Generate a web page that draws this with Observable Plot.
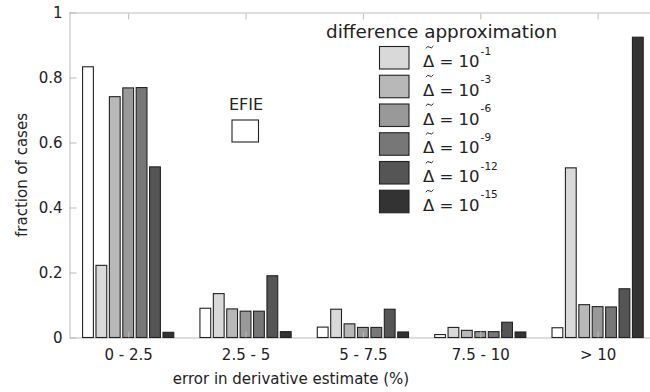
<!DOCTYPE html>
<html>
<head>
<meta charset="utf-8">
<script src="https://cdn.jsdelivr.net/npm/d3@7"></script>
<script src="https://cdn.jsdelivr.net/npm/@observablehq/plot@0.6"></script>
<style>
  html, body { margin: 0; padding: 0; background: #fff; }
  svg { display: block; }
</style>
</head>
<body>
<div id="chart"></div>
<script>
// ---- data ----
const groups = ["0 - 2.5", "2.5 - 5", "5 - 7.5", "7.5 - 10", "> 10"];
const seriesKeys = ["EFIE", "1e-1", "1e-3", "1e-6", "1e-9", "1e-12", "1e-15"];
const legendExponents = ["-1", "-3", "-6", "-9", "-12", "-15"];
const efie  = [0.833, 0.090, 0.032, 0.009, 0.030];
const dm1   = [0.222, 0.135, 0.087, 0.031, 0.522];
const dm3   = [0.741, 0.088, 0.042, 0.022, 0.101];
const dm6   = [0.768, 0.081, 0.031, 0.018, 0.095];
const dm9   = [0.769, 0.081, 0.031, 0.018, 0.094];
const dm12  = [0.525, 0.190, 0.087, 0.047, 0.150];
const dm15  = [0.016, 0.018, 0.017, 0.017, 0.924];
const seriesValues = [efie, dm1, dm3, dm6, dm9, dm12, dm15];
const fills = ["#ffffff", "#d9d9d9", "#b8b8b8", "#999999", "#777777", "#555555", "#333333"];
const yTicks = [0, 0.2, 0.4, 0.6, 0.8, 1];
const xTicks = [1, 2, 3, 4, 5];

// ---- layout constants ----
const STEP = 0.1142;   // bar step within a group (in group units)
const BW = 0.092;      // bar width (in group units)
const FONT = "DejaVu Sans";

const rows = [];
seriesValues.forEach((vals, j) => {
  vals.forEach((v, i) => {
    const c = i + 1 + (j - 3) * STEP;
    rows.push({group: groups[i], series: seriesKeys[j], value: v, x1: c - BW / 2, x2: c + BW / 2});
  });
});

const axisColor = "#bbbbbb";

const chart = Plot.plot({
  width: 650,
  height: 392,
  marginLeft: 69.5,
  marginRight: 0,
  marginTop: 12.5,
  marginBottom: 54.5,
  style: {fontFamily: FONT, fontSize: "15px", color: "#222", background: "#fff"},
  x: {domain: [0.5, 5.5], range: [69.5, 656.3], axis: null},
  y: {domain: [0, 1], axis: null},
  color: {type: "ordinal", domain: seriesKeys, range: fills},
  marks: [
    Plot.ruleY([0, 1], {stroke: axisColor, strokeWidth: 1}),
    Plot.ruleX([0.5], {stroke: axisColor, strokeWidth: 1}),
    Plot.rectY(rows, {x1: "x1", x2: "x2", y1: 0, y2: "value", fill: "series", stroke: "#222", strokeWidth: 1.1}),
    // inward tick marks
    Plot.axisX(xTicks, {anchor: "bottom", tickSize: 6, dy: -6, tickFormat: () => "", stroke: axisColor, label: null}),
    Plot.axisX(xTicks, {anchor: "top", tickSize: 6, dy: 6, tickFormat: () => "", stroke: axisColor, label: null}),
    Plot.axisY(yTicks, {anchor: "left", tickSize: 7, dx: 7, tickFormat: () => "", stroke: axisColor, label: null}),
    // tick labels
    Plot.axisX(xTicks, {anchor: "bottom", tickSize: 0, tickPadding: 11, tickFormat: d => groups[d - 1], fontSize: 15, fill: "#222", label: null}),
    Plot.axisY(yTicks, {anchor: "left", tickSize: 0, tickPadding: 7.5, tickFormat: d => String(d), fontSize: 15, fill: "#222", label: null})
  ]
});

document.getElementById("chart").appendChild(chart);

// ---- annotations: axis titles, EFIE label and legend ----
const svg = d3.select(chart);
const ann = svg.append("g").attr("font-family", FONT).attr("fill", "#222").attr("text-anchor", "start");

ann.append("text")
  .attr("x", 291).attr("y", 384)
  .attr("text-anchor", "middle").attr("font-size", 15)
  .text("error in derivative estimate (%)");

ann.append("text")
  .attr("transform", "translate(27,175) rotate(-90)")
  .attr("text-anchor", "middle").attr("font-size", 15)
  .text("fraction of cases");

// EFIE annotation
ann.append("text")
  .attr("x", 246).attr("y", 110)
  .attr("text-anchor", "middle").attr("font-size", 16)
  .text(seriesKeys[0]);
ann.append("rect")
  .attr("x", 232).attr("y", 120).attr("width", 26.5).attr("height", 22)
  .attr("fill", fills[0]).attr("stroke", "#222").attr("stroke-width", 1.1);

// legend
ann.append("text")
  .attr("x", 326).attr("y", 37.5)
  .attr("text-anchor", "start")
  .attr("font-size", 18.4)
  .text("difference approximation");

legendExponents.forEach((e, k) => {
  const top = 46.5 + k * 28.75;
  const base = top + 20.5;
  ann.append("rect")
    .attr("x", 379.5).attr("y", top).attr("width", 29.5).attr("height", 22.5)
    .attr("fill", fills[k + 1]).attr("stroke", "#222").attr("stroke-width", 1.1);
  // tilde accent drawn as a small wave
  const cy = base - 19.8, x0 = 425.8;
  ann.append("path")
    .attr("d", `M${x0},${cy + 1.2} Q${x0 + 1.9},${cy - 1.8} ${x0 + 3.8},${cy} T${x0 + 7.6},${cy - 1.2}`)
    .attr("fill", "none").attr("stroke", "#222").attr("stroke-width", 1);
  const t = ann.append("text")
    .attr("x", 423).attr("y", base)
    .attr("text-anchor", "start")
    .attr("font-size", 16.5);
  t.append("tspan").text("\u0394 = 10");
  t.append("tspan").attr("font-size", 10.5).attr("dy", -12.5).attr("dx", 1).text(e);
});
</script>
</body>
</html>
